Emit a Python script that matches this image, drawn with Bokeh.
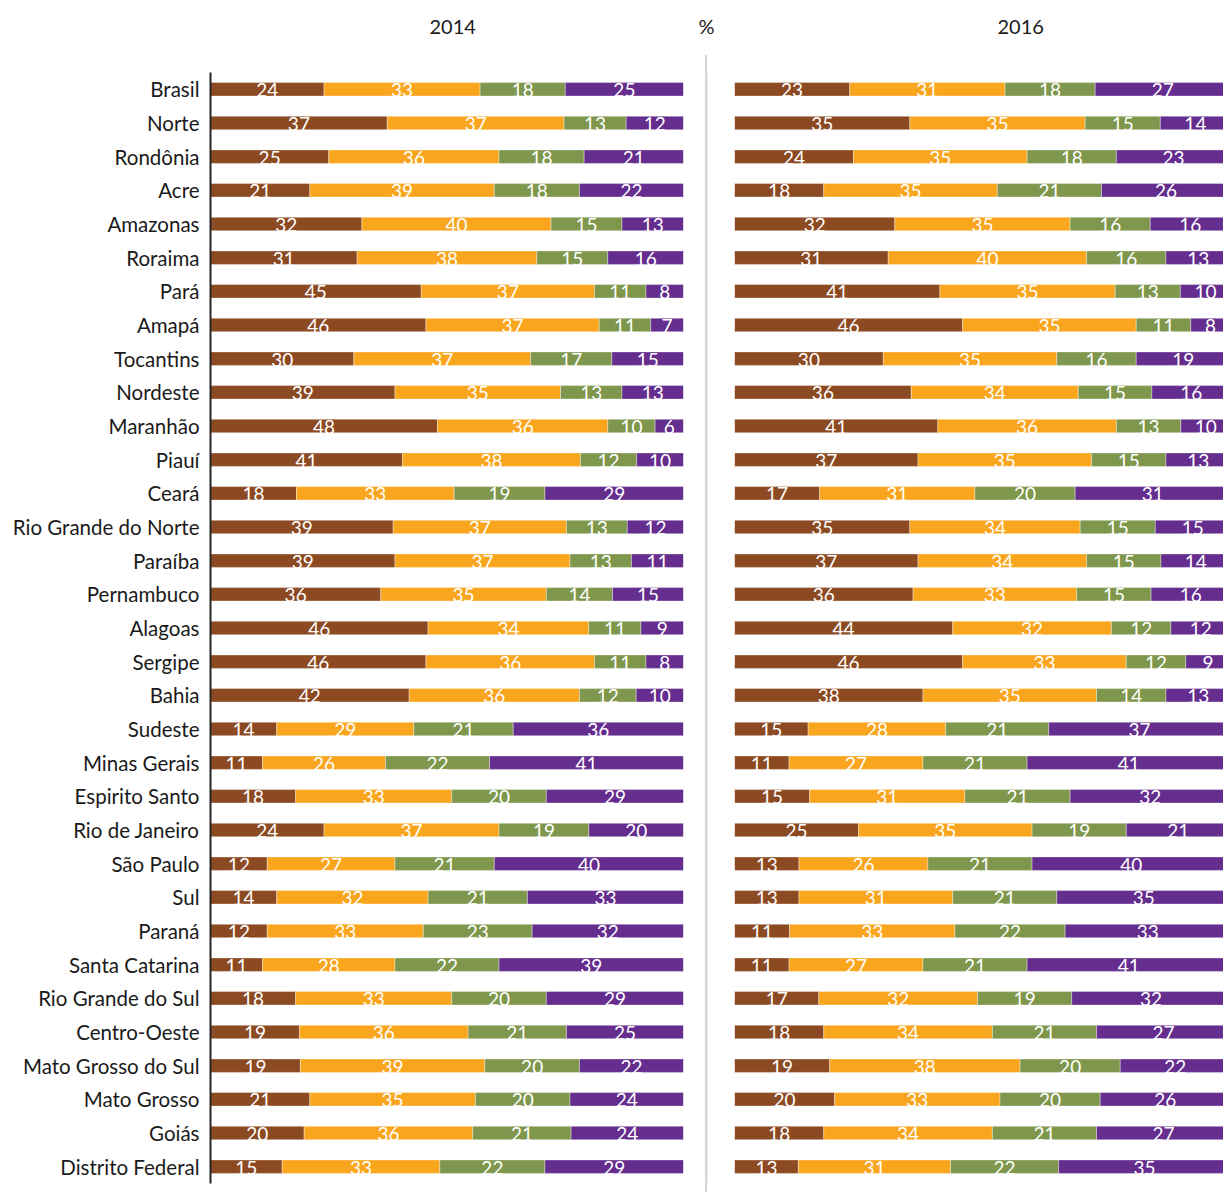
from bokeh.plotting import figure
from bokeh.models import ColumnDataSource, FactorRange, Range1d, Span
from bokeh.layouts import row
from bokeh.embed import file_html
from bokeh.resources import INLINE
from bokeh.core.properties import value
import numpy as np

FONT = "Lato"
FONT_V = value(FONT)

regions = ["Brasil", "Norte", "Rondônia", "Acre", "Amazonas", "Roraima", "Pará", "Amapá",
           "Tocantins", "Nordeste", "Maranhão", "Piauí", "Ceará", "Rio Grande do Norte",
           "Paraíba", "Pernambuco", "Alagoas", "Sergipe", "Bahia", "Sudeste", "Minas Gerais",
           "Espirito Santo", "Rio de Janeiro", "São Paulo", "Sul", "Paraná", "Santa Catarina",
           "Rio Grande do Sul", "Centro-Oeste", "Mato Grosso do Sul", "Mato Grosso", "Goiás",
           "Distrito Federal"]

# 2014 series (brown, orange, green, purple)
s2014_a = [24, 37, 25, 21, 32, 31, 45, 46, 30, 39, 48, 41, 18, 39, 39, 36, 46, 46, 42, 14, 11, 18, 24, 12, 14, 12, 11, 18, 19, 19, 21, 20, 15]
s2014_b = [33, 37, 36, 39, 40, 38, 37, 37, 37, 35, 36, 38, 33, 37, 37, 35, 34, 36, 36, 29, 26, 33, 37, 27, 32, 33, 28, 33, 36, 39, 35, 36, 33]
s2014_c = [18, 13, 18, 18, 15, 15, 11, 11, 17, 13, 10, 12, 19, 13, 13, 14, 11, 11, 12, 21, 22, 20, 19, 21, 21, 23, 22, 20, 21, 20, 20, 21, 22]
s2014_d = [25, 12, 21, 22, 13, 16, 8, 7, 15, 13, 6, 10, 29, 12, 11, 15, 9, 8, 10, 36, 41, 29, 20, 40, 33, 32, 39, 29, 25, 22, 24, 24, 29]

# 2016 series
s2016_a = [23, 35, 24, 18, 32, 31, 41, 46, 30, 36, 41, 37, 17, 35, 37, 36, 44, 46, 38, 15, 11, 15, 25, 13, 13, 11, 11, 17, 18, 19, 20, 18, 13]
s2016_b = [31, 35, 35, 35, 35, 40, 35, 35, 35, 34, 36, 35, 31, 34, 34, 33, 32, 33, 35, 28, 27, 31, 35, 26, 31, 33, 27, 32, 34, 38, 33, 34, 31]
s2016_c = [18, 15, 18, 21, 16, 16, 13, 11, 16, 15, 13, 15, 20, 15, 15, 15, 12, 12, 14, 21, 21, 21, 19, 21, 21, 22, 21, 19, 21, 20, 20, 21, 22]
s2016_d = [27, 14, 23, 26, 16, 13, 10, 8, 19, 16, 10, 13, 31, 15, 14, 16, 12, 9, 13, 37, 41, 32, 21, 40, 35, 33, 41, 32, 27, 22, 26, 27, 35]

colors = ["#8C4A22", "#F9A61E", "#7E974C", "#652D8E"]
keys = ["a", "b", "c", "d"]

H = 1192


def build_source(series):
    arr = np.array(series, dtype=float)
    share = arr / arr.sum(axis=0) * 100.0
    data = {"region": regions}
    left = np.zeros(len(regions))
    for i, k in enumerate(keys):
        data[k] = share[i]
        data[k + "_mid"] = left + share[i] / 2.0
        data[k + "_lbl"] = [str(int(v)) for v in series[i]]
        left = left + share[i]
    return ColumnDataSource(data)


def style_title(p, text, align, offset, standoff):
    p.title.text = text
    p.title.text_font = FONT
    p.title.text_font_size = "20px"
    p.title.text_font_style = "normal"
    p.title.text_color = "#1a1a1a"
    p.title.align = align
    p.title.offset = offset
    p.title.standoff = standoff


def make_panel(series, title, width, x_end, mb_left, mb_right, mb_top, mb_bottom,
               show_axis, t_align, t_offset, t_standoff):
    src = build_source(series)
    p = figure(width=width, height=H, output_backend="svg", toolbar_location=None,
               y_range=FactorRange(factors=list(reversed(regions)), range_padding=0),
               x_range=Range1d(0, x_end),
               min_border_left=mb_left, min_border_right=mb_right,
               min_border_top=mb_top, min_border_bottom=mb_bottom)
    p.hbar_stack(keys, y="region", height=0.4, color=colors, source=src,
                 line_color="white", line_width=0.6, line_alpha=0.6)
    for k in keys:
        p.text(x=k + "_mid", y="region", text=k + "_lbl", source=src,
               text_color="white", text_font=FONT_V, text_font_size="19px",
               text_align="center", text_baseline="middle", y_offset=1)
    p.xaxis.visible = False
    p.xgrid.visible = False
    p.ygrid.visible = False
    p.outline_line_color = None
    if show_axis:
        ax = p.yaxis[0]
        ax.axis_line_color = "#262626"
        ax.axis_line_width = 2
        ax.major_tick_line_color = None
        ax.minor_tick_line_color = None
        ax.major_label_standoff = 5
        ax.major_label_text_font = FONT
        ax.major_label_text_font_size = "20.5px"
        ax.major_label_text_color = "#1a1a1a"
    else:
        p.yaxis.visible = False
    style_title(p, title, t_align, t_offset, t_standoff)
    return p


left = make_panel([s2014_a, s2014_b, s2014_c, s2014_d], "2014\n ", 694, 100,
                  210, 11, 72, 9, True, "left", 219, 22)

sep = figure(width=24, height=H, output_backend="svg", toolbar_location=None,
             x_range=Range1d(0, 1), y_range=Range1d(0, 1),
             min_border_left=0, min_border_right=0, min_border_top=55, min_border_bottom=0,
             background_fill_color=None, border_fill_color=None,
             styles={"background": "linear-gradient(#d4d4d4, #d4d4d4) no-repeat 11px 55px / 2px calc(100% - 55px)"})
sep.add_layout(Span(location=0.5, dimension="height", line_color="#d4d4d4", line_width=2))
sep.axis.visible = False
sep.grid.visible = False
sep.outline_line_color = None
style_title(sep, "%\n ", "center", 0, 21)

right = make_panel([s2016_a, s2016_b, s2016_c, s2016_d], "2016\n ", 505, 98.6,
                   16, 0, 69, 8, False, "left", 263, 22)

layout = row(left, sep, right, spacing=0)

with open("out.html", "w") as f:
    f.write(file_html(layout, INLINE))
